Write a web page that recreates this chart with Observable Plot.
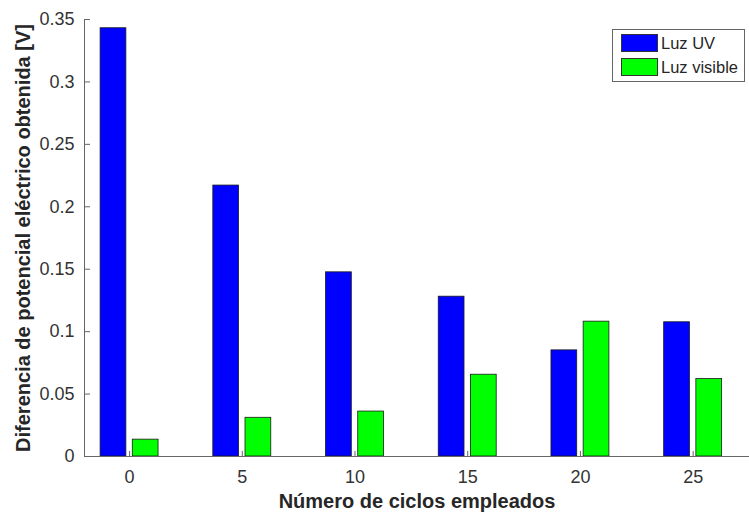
<!DOCTYPE html>
<html>
<head>
<meta charset="utf-8">
<script src="https://cdn.jsdelivr.net/npm/d3@7"></script>
<script src="https://cdn.jsdelivr.net/npm/@observablehq/plot@0.6"></script>
<style>
  body { margin: 0; background: #fff; }
  #wrap { position: relative; width: 749px; height: 516px; font-family: "Liberation Sans", Arial, sans-serif; }
  #legend { position: absolute; left: 612px; top: 29px; width: 131px; height: 51px; border: 1px solid #666; background: #fff; }
  .item { position: absolute; left: 8px; height: 18px; display: flex; align-items: center; font-size: 16.5px; color: #262626; }
  .sw { width: 37px; height: 18px; border: 1px solid #333; margin-right: 3px; box-sizing: border-box; }
</style>
</head>
<body>
<div id="wrap"></div>
<script>
const cycles = [0, 5, 10, 15, 20, 25];
const uvValues = [0.343, 0.217, 0.1475, 0.128, 0.085, 0.1075];
const visibleValues = [0.0135, 0.031, 0.036, 0.0655, 0.108, 0.062];
const seriesNames = ["Luz UV", "Luz visible"];
const seriesColors = ["#0000ff", "#00ff00"];
const yTicks = [0, 0.05, 0.1, 0.15, 0.2, 0.25, 0.3, 0.35];
const xTicks = [0, 5, 10, 15, 20, 25];
const xTitle = "Número de ciclos empleados";
const yTitle = "Diferencia de potencial eléctrico obtenida [V]";

// grouped bar layout (MATLAB style)
const groupOffset = 0.714, barWidth = 1.143;
const xDomain = [-2, 27.5];

const rows = cycles.flatMap((c, i) => [
  {cycle: c, series: seriesNames[0], value: uvValues[i], k: -1},
  {cycle: c, series: seriesNames[1], value: visibleValues[i], k: 1}
]);

const chart = Plot.plot({
  width: 749,
  height: 516,
  marginLeft: 84,
  marginRight: 0,
  marginTop: 19,
  marginBottom: 60,
  style: {fontFamily: '"Liberation Sans", Arial, sans-serif', fontSize: "17px", color: "#262626", background: "#fff", overflow: "visible"},
  x: {domain: xDomain, label: null},
  y: {domain: [0, 0.35], label: null},
  color: {domain: seriesNames, range: seriesColors},
  marks: [
    Plot.rectY(rows, {
      x1: d => d.cycle + d.k * groupOffset - barWidth / 2,
      x2: d => d.cycle + d.k * groupOffset + barWidth / 2,
      y1: 0, y2: "value",
      fill: "series", stroke: "#1a1a1a", strokeWidth: 0.8
    }),
    Plot.ruleY([0], {stroke: "#666"}),
    Plot.ruleX([xDomain[0]], {stroke: "#666"}),
    Plot.axisY({ticks: yTicks, tickSize: -6, stroke: "#666", tickFormat: () => ""}),
    Plot.axisY({ticks: yTicks, tickSize: 0, tickPadding: 10, tickFormat: d => String(d), fill: "#333", fontSize: 18}),
    Plot.axisX({ticks: xTicks, tickSize: -5, stroke: "#666", tickFormat: () => ""}),
    Plot.axisX({ticks: xTicks, tickSize: 0, tickPadding: 14, tickFormat: d => String(d), fill: "#333", fontSize: 18}),
    Plot.text([xTitle], {frameAnchor: "bottom", dy: 51, text: d => d, fontWeight: "bold", fontSize: 20, fill: "#262626"}),
    Plot.text([yTitle], {frameAnchor: "left", textAnchor: "middle", dx: -61, rotate: -90, text: d => d, fontWeight: "bold", fontSize: 20, fill: "#262626"})
  ]
});

const wrap = document.getElementById("wrap");
wrap.appendChild(chart);

const legend = document.createElement("div");
legend.id = "legend";
seriesNames.forEach((name, i) => {
  const item = document.createElement("div");
  item.className = "item";
  item.style.top = (4 + i * 24) + "px";
  const sw = document.createElement("div");
  sw.className = "sw";
  sw.style.background = seriesColors[i];
  item.appendChild(sw);
  item.appendChild(document.createTextNode(name));
  legend.appendChild(item);
});
wrap.appendChild(legend);
</script>
</body>
</html>
